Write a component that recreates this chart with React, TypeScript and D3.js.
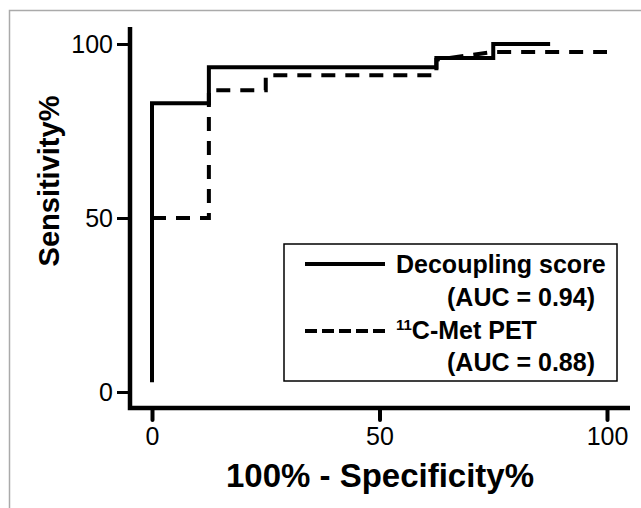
import React, { useEffect, useRef } from "react";
import * as d3 from "d3";

// ROC curve points (x = 100% - specificity, y = sensitivity)
const decFpr = [0, 0, 12.5, 12.5, 62.5, 62.5, 75, 75, 87.5];
const decSens = [2.8, 83, 83, 93.3, 93.3, 96, 96, 100, 100];
const metFpr = [0, 12.5, 12.5, 25, 25, 62.5, 62.5, 75, 100];
const metSens = [50, 50, 86.7, 86.7, 91, 91, 95.5, 97.7, 97.7];

const xTicks = [0, 50, 100];
const yTicks = [0, 50, 100];
const legendNames = ["Decoupling score", "C-Met PET"];
const legendAuc = ["(AUC = 0.94)", "(AUC = 0.88)"];

const W = 641;
const H = 508;
const FONT = "'Liberation Sans', Arial, Helvetica, sans-serif";

export default function App() {
  const svgRef = useRef<SVGSVGElement>(null);

  useEffect(() => {
    const svg = d3.select(svgRef.current);
    svg.selectAll("*").remove();

    svg.append("rect").attr("width", W).attr("height", H).attr("fill", "white");
    // outer frame (only top / left visible in the crop)
    svg.append("path")
      .attr("d", `M9.5,${H} V10.5 H${W}`)
      .attr("fill", "none")
      .attr("stroke", "#aaa")
      .attr("stroke-width", 1.5);

    const x = d3.scaleLinear().domain([0, 100]).range([152, 607]);
    const y = d3.scaleLinear().domain([0, 100]).range([392, 44]);

    const axX = 130; // y axis position
    const axY = 408; // x axis position

    // axis lines
    svg.append("path")
      .attr("d", `M${axX},27 V${axY} H630`)
      .attr("fill", "none")
      .attr("stroke", "black")
      .attr("stroke-width", 4.5);

    // y axis ticks
    const yAxis = d3.axisLeft(y).tickValues(yTicks).tickSize(13).tickPadding(4);
    const gy = svg.append("g").attr("transform", `translate(${axX},0)`).call(yAxis);
    gy.select(".domain").remove();
    gy.selectAll(".tick line").attr("stroke", "black").attr("stroke-width", 3);
    gy.selectAll(".tick text")
      .attr("fill", "black")
      .style("font-family", FONT)
      .style("font-size", "25px");

    // x axis ticks
    const xAxis = d3.axisBottom(x).tickValues(xTicks).tickSize(12).tickPadding(7);
    const gx = svg.append("g").attr("transform", `translate(0,${axY})`).call(xAxis);
    gx.select(".domain").remove();
    gx.selectAll(".tick line")
      .attr("stroke", "black")
      .attr("stroke-width", 4)
      .attr("stroke-linecap", "round");
    gx.selectAll(".tick text")
      .attr("fill", "black")
      .style("font-family", FONT)
      .style("font-size", "25px");

    // axis titles
    svg.append("text")
      .attr("x", 380)
      .attr("y", 487)
      .attr("text-anchor", "middle")
      .style("font-family", FONT)
      .style("font-size", "33px")
      .style("font-weight", "bold")
      .text("100% - Specificity%");

    svg.append("text")
      .attr("transform", "translate(59,181) rotate(-90)")
      .attr("text-anchor", "middle")
      .style("font-family", FONT)
      .style("font-size", "29px")
      .style("font-weight", "bold")
      .text("Sensitivity%");

    // curves
    const line = d3.line<[number, number]>()
      .x(d => x(d[0]))
      .y(d => y(d[1]));

    const decPts = decFpr.map((v, i) => [v, decSens[i]] as [number, number]);
    const metPts = metFpr.map((v, i) => [v, metSens[i]] as [number, number]);

    svg.append("path")
      .attr("d", line(decPts))
      .attr("fill", "none")
      .attr("stroke", "black")
      .attr("stroke-width", 4);

    svg.append("path")
      .attr("d", line(metPts))
      .attr("fill", "none")
      .attr("stroke", "black")
      .attr("stroke-width", 4)
      .attr("stroke-dasharray", "14,10");

    // legend
    svg.append("rect")
      .attr("x", 284)
      .attr("y", 244)
      .attr("width", 333)
      .attr("height", 137)
      .attr("fill", "white")
      .attr("stroke", "black")
      .attr("stroke-width", 1.5);

    const lg = svg.append("g").style("font-family", FONT).style("font-weight", "bold");

    lg.append("line")
      .attr("x1", 305).attr("x2", 385).attr("y1", 264).attr("y2", 264)
      .attr("stroke", "black").attr("stroke-width", 4);
    lg.append("line")
      .attr("x1", 305).attr("x2", 385).attr("y1", 331).attr("y2", 331)
      .attr("stroke", "black").attr("stroke-width", 4)
      .attr("stroke-dasharray", "12,5");

    lg.append("text").attr("x", 396).attr("y", 273).style("font-size", "25px").text(legendNames[0]);
    lg.append("text").attr("x", 447).attr("y", 306).style("font-size", "25px").text(legendAuc[0]);
    const t3 = lg.append("text").attr("x", 396).attr("y", 339).style("font-size", "25px");
    t3.append("tspan").attr("dy", -9).style("font-size", "15px").text("11");
    t3.append("tspan").attr("dy", 9).text(legendNames[1]);
    lg.append("text").attr("x", 447).attr("y", 371).style("font-size", "25px").text(legendAuc[1]);
  }, []);

  return (
    <svg
      ref={svgRef}
      width={W}
      height={H}
      style={{ position: "absolute", left: 0, top: 0, display: "block" }}
    />
  );
}
